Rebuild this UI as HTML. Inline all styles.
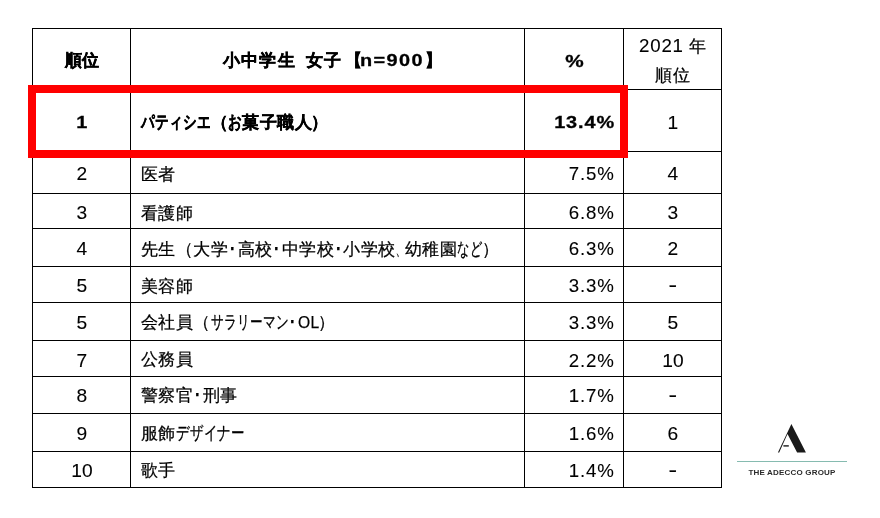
<!DOCTYPE html>
<html lang="ja">
<head>
<meta charset="utf-8">
<title>小中学生 女子 ランキング</title>
<style>
  html, body { margin: 0; padding: 0; }
  body {
    width: 880px; height: 518px; position: relative; overflow: hidden;
    background: #ffffff; color: #000;
    font-family: "Liberation Sans", sans-serif;
    font-size: 17.33px;
  }
  .h, .v { position: absolute; background: #000; }
  .h { left: 32px; width: 690px; height: 1px; }
  .v { top: 28px; width: 1px; height: 460px; }

  .c {
    position: absolute; white-space: nowrap;
    height: 24px; line-height: 24px; letter-spacing: 0.45px;
    will-change: transform; -webkit-text-stroke: 0.25px #000;
  }
  .rank { left: 33px; width: 97px; text-align: center; }
  .name { left: 141px; width: 380px; text-align: left; }
  .pct  { left: 531px; width: 83px; text-align: right; }
  .prev { left: 624px; width: 97px; text-align: center; }
  .c.b { font-weight: bold; -webkit-text-stroke: 0.35px #000; }
  .n { display: inline-block; font-size: 17.8px; -webkit-text-stroke: 0.1px #000; transform: scaleX(1.05); letter-spacing: 0.8px; margin-right: -0.8px; }
  .d { letter-spacing: 0.3px; }
    .k { display: inline-block; font-size: var(--f, 1.06em); line-height: 1; -webkit-text-stroke: 0.3px #000; transform: scaleX(var(--s)); transform-origin: 0 50%; margin-right: calc(var(--n) * (var(--s) - 1) * 1em); }
  .pct .n { transform-origin: 100% 50%; }
  .rank .n, .prev .n { transform-origin: 50% 50%; transform: scaleX(1.08); letter-spacing: 0.2px; margin-right: -0.2px; }
  .b .n { font-size: 17px; -webkit-text-stroke: 0.3px #000; transform: scaleX(1.17); letter-spacing: 0.8px; margin-right: -0.8px; }
  .prev .n.dash { transform: translateY(-0.8px) scale(1.45, 1.15); }
  .prev .n.yr { transform: scaleX(1.05); letter-spacing: 0.8px; margin-right: -0.8px; }

  .red {
    position: absolute; left: 28px; top: 85px; width: 584px; height: 57px;
    border: 8px solid #ff0000;
  }

  .logo { position: absolute; left: 730px; top: 416px; width: 120px; height: 70px; }
  .logo svg { position: absolute; left: 0; top: 0; }
  .tline { position: absolute; left: 737px; top: 461px; width: 110px; height: 1px; background: #86bbb0; }
  .brand {
    position: absolute; left: 742px; top: 468px; width: 100px; text-align: center;
    font-size: 8px; line-height: 10px; font-weight: bold; color: #2b2b2b;
    letter-spacing: 0.18px; white-space: nowrap; will-change: transform;
  }
</style>
</head>
<body>

<!-- horizontal grid lines -->
<div class="h" style="top:28px"></div>
<div class="h" style="top:89px"></div>
<div class="h" style="top:151px"></div>
<div class="h" style="top:193px"></div>
<div class="h" style="top:228px"></div>
<div class="h" style="top:266px"></div>
<div class="h" style="top:302px"></div>
<div class="h" style="top:340px"></div>
<div class="h" style="top:376px"></div>
<div class="h" style="top:413px"></div>
<div class="h" style="top:451px"></div>
<div class="h" style="top:487px"></div>

<!-- vertical grid lines -->
<div class="v" style="left:32px"></div>
<div class="v" style="left:130px"></div>
<div class="v" style="left:524px"></div>
<div class="v" style="left:623px"></div>
<div class="v" style="left:721px"></div>

<!-- header -->
<div class="c rank b" style="top:48px;left:34px">順位</div>
<div class="c b" style="top:48px;left:223px;width:300px;text-align:left;letter-spacing:1.2px;word-spacing:3.7px">小中学生 女子<span style="margin:0 -3.4px 0 2.8px">【</span><span class="n" style="letter-spacing:1.2px;transform:scaleX(1.17);transform-origin:0 50%;margin-right:10.3px">n=900</span>】</div>
<div class="c b" style="top:49px;left:526px;width:98px;text-align:center"><span class="n" style="transform:scaleX(1.22)">%</span></div>
<div class="c prev" style="top:34px;left:625px"><span class="n yr">2021</span> <span style="margin-left:2px">年</span></div>
<div class="c prev" style="top:63px;left:625px;letter-spacing:1.2px">順位</div>

<!-- row 1 -->
<div class="c rank b" style="top:110px"><span class="n">1</span></div>
<div class="c name b" style="top:110px;left:141px"><span class="k" style="--n:5;--s:0.757">パティシエ</span>（<span class="k" style="--n:1;--s:0.757">お</span>菓子職人<span style="margin-left:-1.5px">）</span></div>
<div class="c pct b" style="top:110px"><span class="n">13.4%</span></div>
<div class="c prev" style="top:111px"><span class="n">1</span></div>

<!-- row 2 -->
<div class="c rank" style="top:162px"><span class="n">2</span></div>
<div class="c name" style="top:162px">医者</div>
<div class="c pct" style="top:162px"><span class="n">7.5%</span></div>
<div class="c prev" style="top:162px"><span class="n">4</span></div>

<!-- row 3 -->
<div class="c rank" style="top:201px"><span class="n">3</span></div>
<div class="c name" style="top:201px">看護師</div>
<div class="c pct" style="top:201px"><span class="n">6.8%</span></div>
<div class="c prev" style="top:201px"><span class="n">3</span></div>

<!-- row 4 -->
<div class="c rank" style="top:237px"><span class="n">4</span></div>
<div class="c name" style="top:237px">先生（大学<span class="d">･</span>高校<span class="d">･</span>中学校<span class="d">･</span>小学校<span class="k" style="--n:1;--s:0.5;--f:1em">、</span>幼稚園<span class="k" style="--n:2;--s:0.68">など</span>）</div>
<div class="c pct" style="top:237px"><span class="n">6.3%</span></div>
<div class="c prev" style="top:237px"><span class="n">2</span></div>

<!-- row 5 -->
<div class="c rank" style="top:274px"><span class="n">5</span></div>
<div class="c name" style="top:274px">美容師</div>
<div class="c pct" style="top:274px"><span class="n">3.3%</span></div>
<div class="c prev" style="top:274px"><span class="n dash">-</span></div>

<!-- row 6 -->
<div class="c rank" style="top:311px"><span class="n">5</span></div>
<div class="c name" style="top:310px">会社員（<span class="k" style="--n:6;--s:0.70">サラリーマン</span><span class="d">･</span><span style="display:inline-block;transform:scaleX(0.9);transform-origin:0 50%;margin-right:-3.3px">OL</span>）</div>
<div class="c pct" style="top:311px"><span class="n">3.3%</span></div>
<div class="c prev" style="top:311px"><span class="n">5</span></div>

<!-- row 7 -->
<div class="c rank" style="top:349px"><span class="n">7</span></div>
<div class="c name" style="top:347px">公務員</div>
<div class="c pct" style="top:349px"><span class="n">2.2%</span></div>
<div class="c prev" style="top:349px"><span class="n">10</span></div>

<!-- row 8 -->
<div class="c rank" style="top:384px"><span class="n">8</span></div>
<div class="c name" style="top:383px">警察官<span class="d">･</span>刑事</div>
<div class="c pct" style="top:384px"><span class="n">1.7%</span></div>
<div class="c prev" style="top:384px"><span class="n dash">-</span></div>

<!-- row 9 -->
<div class="c rank" style="top:422px"><span class="n">9</span></div>
<div class="c name" style="top:421px">服飾<span class="k" style="--n:5;--s:0.747">デザイナー</span></div>
<div class="c pct" style="top:422px"><span class="n">1.6%</span></div>
<div class="c prev" style="top:422px"><span class="n">6</span></div>

<!-- row 10 -->
<div class="c rank" style="top:459px"><span class="n">10</span></div>
<div class="c name" style="top:458px">歌手</div>
<div class="c pct" style="top:459px"><span class="n">1.4%</span></div>
<div class="c prev" style="top:459px"><span class="n dash">-</span></div>

<!-- highlight box -->
<div class="red"></div>

<!-- logo -->
<div class="logo">
  <svg width="120" height="70" viewBox="730 416 120 70">
    <polygon points="791.4,424 805.9,452.6 797.1,452.6 787.5,433.9 779.2,452.6 777.9,452.6" fill="#1a1a1a"/>
    <rect x="783.4" y="445.2" width="5.4" height="1.4" fill="#1a1a1a"/>
  </svg>
</div>
<div class="tline"></div>
<div class="brand">THE ADECCO GROUP</div>

</body>
</html>
